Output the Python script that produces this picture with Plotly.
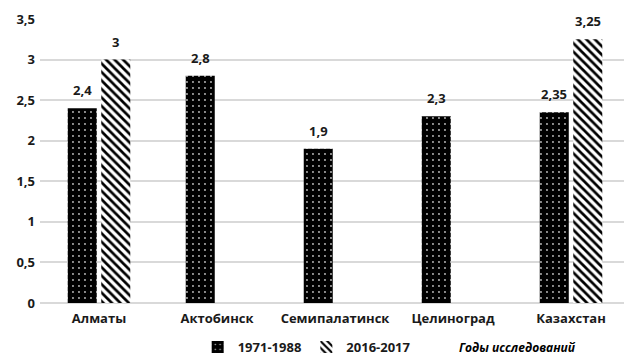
import plotly.graph_objects as go

# Data
categories = ["Алматы", "Актобинск", "Семипалатинск", "Целиноград", "Казахстан"]
series_1971_1988 = [2.4, 2.8, 1.9, 2.3, 2.35]
series_2016_2017 = [3.0, None, None, None, 3.25]
series_names = ["1971-1988", "2016-2017"]
y_ticks = [0, 0.5, 1, 1.5, 2, 2.5, 3, 3.5]
legend_title = "Годы исследований"

FONT = "Open Sans"
TXT = "#1a1a1a"

# plot area in pixels: x 40..624, y 19..303
PLOT_W = 584
PLOT_H = 284

fig = go.Figure()
fig.add_trace(go.Bar(
    x=categories, y=series_1971_1988, name=series_names[0],
    marker=dict(color="black", line=dict(width=0),
                pattern=dict(shape=".", fgcolor="#bbbbbb", bgcolor="black",
                             size=6, solidity=0.08, fillmode="replace")),
))
fig.add_trace(go.Bar(
    x=categories, y=series_2016_2017, name=series_names[1],
    marker=dict(color="white", line=dict(width=0),
                pattern=dict(shape="\\", fgcolor="black", bgcolor="white",
                             size=6, solidity=0.45, fillmode="replace")),
))

# value labels above bars
slot_px = 33.5
for k, vals in enumerate([series_1971_1988, series_2016_2017]):
    shift = -slot_px / 2 if k == 0 else slot_px / 2
    for c, v in zip(categories, vals):
        if v is None:
            continue
        fig.add_annotation(
            x=c, y=v, xref="x", yref="y", text=f"{v:g}".replace(".", ","),
            showarrow=False, xshift=shift, yanchor="bottom", yshift=7,
            font=dict(family=FONT, size=13, color=TXT, weight="bold"),
        )

fig.add_annotation(
    x=(517 - 40) / PLOT_W, y=-(347 - 303) / PLOT_H, xref="paper", yref="paper",
    text=f"<i>{legend_title}</i>",
    showarrow=False, xanchor="center", yanchor="middle",
    font=dict(family=FONT, size=12, color="black", weight="bold"),
)

fig.update_layout(
    width=624, height=356,
    margin=dict(l=40, r=0, t=19, b=53, autoexpand=False),
    paper_bgcolor="white", plot_bgcolor="white",
    barmode="group", bargap=0.432, bargroupgap=0.134,
    separators=", ",
    font=dict(family=FONT, size=13, color=TXT, weight="bold"),
    showlegend=True,
    legend=dict(orientation="h", x=0.27, xanchor="left", yref="container",
                y=(356 - 347) / 356, yanchor="middle",
                font=dict(family=FONT, size=13, color=TXT, weight="bold"),
                itemwidth=30, tracegroupgap=0, bgcolor="rgba(0,0,0,0)"),
    xaxis=dict(range=[-0.5, 4.449], showgrid=False, showline=False, ticks="",
               tickfont=dict(family=FONT, size=13, color=TXT, weight="bold"),
               ticklabelstandoff=6),
    yaxis=dict(range=[0, 3.5], tickvals=y_ticks, showgrid=True, gridcolor="#d9d9d9",
               gridwidth=1.5, zeroline=True, zerolinecolor="#d9d9d9", zerolinewidth=1.5,
               showline=False, ticks="",
               tickfont=dict(family=FONT, size=13, color=TXT, weight="bold"),
               ticklabelstandoff=4),
)

fig.write_html("out.html")
